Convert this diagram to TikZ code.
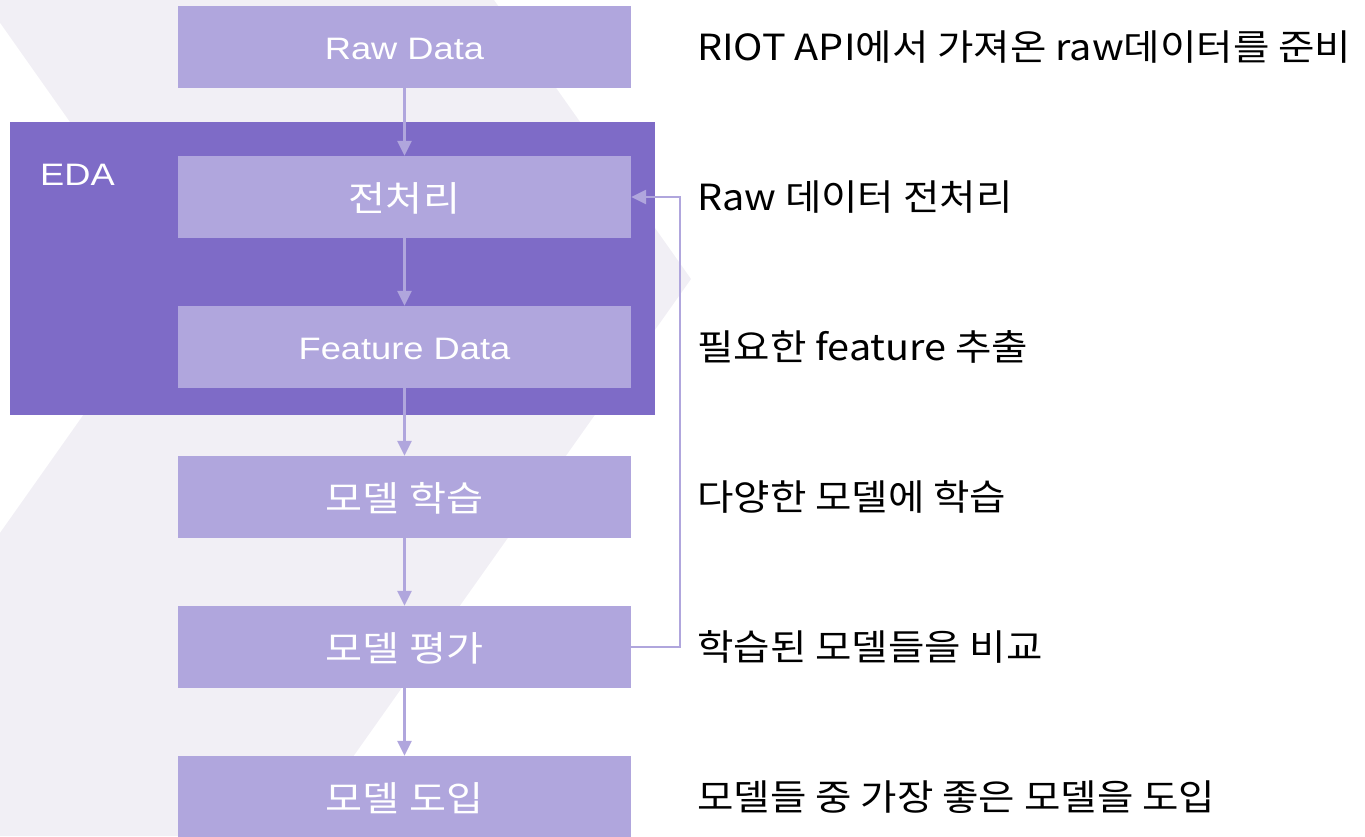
\documentclass[tikz,border=0pt]{standalone}
\usepackage{fontspec}
\setmainfont{Liberation Sans}
\newfontfamily\kr{Noto Sans CJK KR}
\usetikzlibrary{arrows.meta}
\definecolor{bggray}{HTML}{F1EFF5}
\definecolor{edapurple}{HTML}{7E6BC7}
\definecolor{boxpurple}{HTML}{B0A6DD}
\tikzset{
  stepbox/.style={fill=boxpurple, draw=none, minimum width=453pt, minimum height=82pt, inner sep=0pt, text=white},
  flow/.style={draw=boxpurple, line width=2.5pt, -{Triangle[length=15pt,width=14pt]}},
  desc/.style={anchor=west, inner sep=0pt, text=black, font=\kr\fontsize{36}{36}\selectfont},
}
\newcommand{\boxen}[1]{\fontsize{31}{31}\selectfont\raisebox{-2pt}[\height][\depth]{\scalebox{1.17}[1]{#1}}}
\newcommand{\boxkr}[1]{\kr\fontsize{35}{35}\selectfont\raisebox{-1pt}[\height][\depth]{\scalebox{1.15}[1]{#1}}}
\newcommand{\desctext}[1]{\scalebox{1.1}[1]{#1}}
\begin{document}
\begin{tikzpicture}[x=1pt,y=-1pt]
\useasboundingbox (0,0) rectangle (1365,836);
\begin{scope}
\clip (0,0) rectangle (1365,836);
\fill[bggray] (-16,0) -- (494,0) -- (691,279) -- (297,836) -- (-214,836) -- (180,278) -- cycle;
\end{scope}
\fill[edapurple] (10,122) rectangle (655,415);
\node[anchor=west, inner sep=0pt, text=white] (eda) at (40,173) {\boxen{EDA}};

\node[stepbox] (raw) at (404.5,47) {\boxen{Raw Data}};
\node[stepbox] (pre) at (404.5,197) {\boxkr{전처리}};
\node[stepbox] (feat) at (404.5,347) {\boxen{Feature Data}};
\node[stepbox] (train) at (404.5,497) {\boxkr{모델 학습}};
\node[stepbox] (eval) at (404.5,647) {\boxkr{모델 평가}};
\node[stepbox] (deploy) at (404.5,797) {\boxkr{모델 도입}};

\draw[flow] (raw) -- (pre);
\draw[flow] (pre) -- (feat);
\draw[flow] (feat) -- (train);
\draw[flow] (train) -- (eval);
\draw[flow] (eval) -- (deploy);
\draw[flow] (eval.east) -- ++(49,0) |- (pre.east);

\node[desc] (d1) at (697,47) {\desctext{RIOT API에서 가져온 raw데이터를 준비}};
\node[desc] (d2) at (697,197) {\desctext{Raw 데이터 전처리}};
\node[desc] (d3) at (697,347) {\desctext{필요한 feature 추출}};
\node[desc] (d4) at (697,497) {\desctext{다양한 모델에 학습}};
\node[desc] (d5) at (697,647) {\desctext{학습된 모델들을 비교}};
\node[desc] (d6) at (697,797) {\desctext{모델들 중 가장 좋은 모델을 도입}};
\end{tikzpicture}
\end{document}
